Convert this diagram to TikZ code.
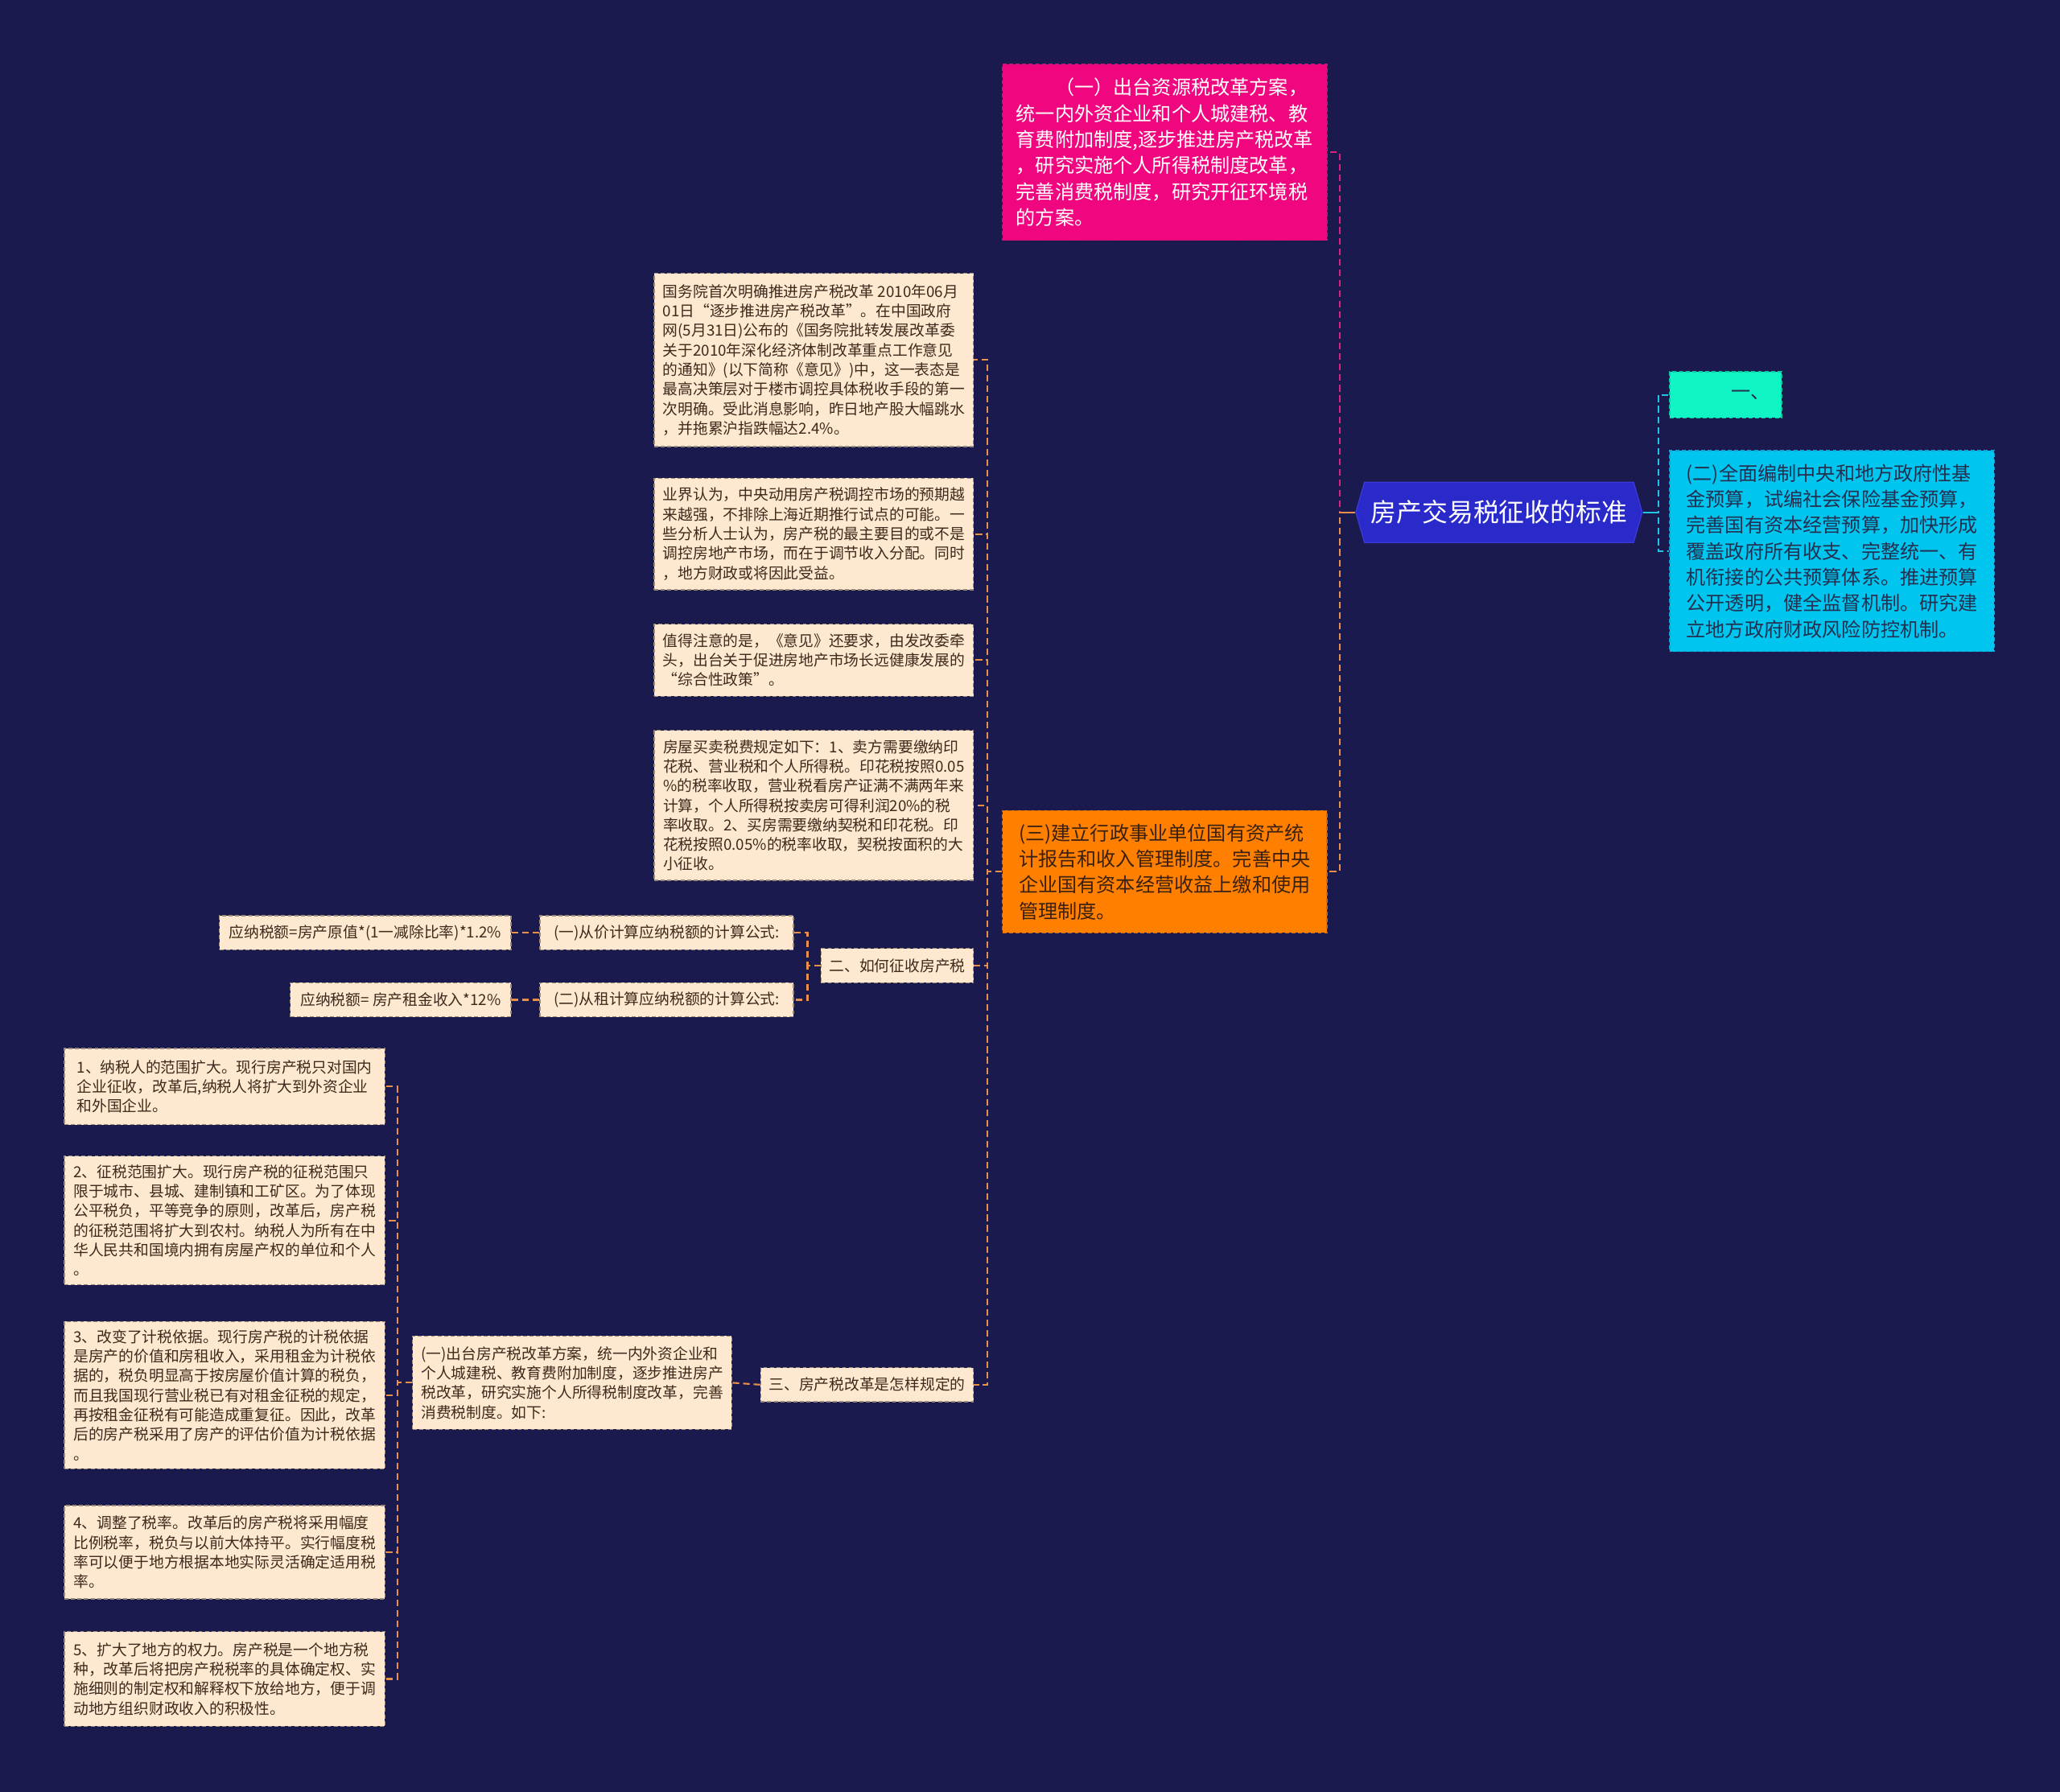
\documentclass[tikz,border=0pt]{standalone}
\usepackage{fontspec}
\setmainfont{Noto Sans CJK SC}
\usetikzlibrary{shapes.symbols}
\definecolor{bgc}{HTML}{1B1A4E}
\definecolor{pinkf}{HTML}{F0077F}
\definecolor{pinkd}{HTML}{C8157A}
\definecolor{aquaf}{HTML}{10F5C3}
\definecolor{aquad}{HTML}{10C8A0}
\definecolor{cyanf}{HTML}{00C6EF}
\definecolor{cyand}{HTML}{1AA0D0}
\definecolor{cyant}{HTML}{243050}
\definecolor{orangef}{HTML}{FF8000}
\definecolor{oranged}{HTML}{C86A10}
\definecolor{oranget}{HTML}{3A2010}
\definecolor{beigef}{HTML}{FFE8D0}
\definecolor{beiged}{HTML}{9A8A78}
\definecolor{beiget}{HTML}{3C2A1C}
\definecolor{rootf}{HTML}{2A2ACB}
\definecolor{rootd}{HTML}{3A3AD8}
\definecolor{connpink}{HTML}{E0207F}
\definecolor{connor}{HTML}{E8904A}
\definecolor{conncy}{HTML}{22C4E6}
\begin{document}
\begin{tikzpicture}[x=1pt,y=-1pt,
  box/.style={rectangle, draw, dash pattern=on 3pt off 2pt, line width=0.8pt, inner sep=0pt, align=left},
  beige/.style={box, fill=beigef, draw=beiged, text=beiget, font=\fontsize{11.5}{14.9}\selectfont},
  beigec/.style={beige, align=center},
  bigbox/.style={box, font=\fontsize{14.8}{19.8}\selectfont},
  conn/.style={line width=1.3pt, dash pattern=on 5pt off 3pt},
  connb/.style={conn, draw=connor},
  rootn/.style={shape=signal, signal to=west and east, signal pointer angle=148, fill=rootf, draw=rootd, line width=0.8pt, text=white, font=\fontsize{19.5}{22}\selectfont, inner sep=0pt}
]
\fill[bgc] (0,0) rectangle (1568,1364);
\useasboundingbox (0,0) rectangle (1568,1364);

% root
\node[rootn, minimum width=218pt, minimum height=46pt] (R) at (1141,390) {房产交易税征收的标准};

% right side
\node[box, fill=aquaf, draw=aquad, text=cyant, minimum width=85pt, minimum height=35pt, font=\fontsize{14.8}{19.8}\selectfont] (C1) at (1313.5,300.5) {\hspace*{38pt}一、};
\node[bigbox, fill=cyanf, draw=cyand, text=cyant, minimum width=247pt, minimum height=153pt] (C2) at (1394.5,419.5) {(二)全面编制中央和地方政府性基\\金预算，试编社会保险基金预算，\\完善国有资本经营预算，加快形成\\覆盖政府所有收支、完整统一、有\\机衔接的公共预算体系。推进预算\\公开透明，健全监督机制。研究建\\立地方政府财政风险防控机制。};

% left main
\node[bigbox, fill=pinkf, draw=pinkd, text=white, minimum width=247pt, minimum height=134pt] (P) at (886.5,116) {　　（一）出台资源税改革方案，\\统一内外资企业和个人城建税、教\\育费附加制度,逐步推进房产税改革\\，研究实施个人所得税制度改革，\\完善消费税制度，研究开征环境税\\的方案。};
\node[bigbox, fill=orangef, draw=oranged, text=oranget, minimum width=247pt, minimum height=93pt] (O) at (886.5,663.5) {(三)建立行政事业单位国有资产统\\计报告和收入管理制度。完善中央\\企业国有资本经营收益上缴和使用\\管理制度。};

% beige column
\node[beige, minimum width=243pt, minimum height=132pt] (A) at (619.5,274) {国务院首次明确推进房产税改革 2010年06月\\01日“逐步推进房产税改革”。在中国政府\\网(5月31日)公布的《国务院批转发展改革委\\关于2010年深化经济体制改革重点工作意见\\的通知》(以下简称《意见》)中，这一表态是\\最高决策层对于楼市调控具体税收手段的第一\\次明确。受此消息影响，昨日地产股大幅跳水\\，并拖累沪指跌幅达2.4\%。};
\node[beige, minimum width=243pt, minimum height=85pt] (B) at (619.5,406.5) {业界认为，中央动用房产税调控市场的预期越\\来越强，不排除上海近期推行试点的可能。一\\些分析人士认为，房产税的最主要目的或不是\\调控房地产市场，而在于调节收入分配。同时\\，地方财政或将因此受益。};
\node[beige, minimum width=243pt, minimum height=55pt] (C) at (619.5,502.5) {值得注意的是，《意见》还要求，由发改委牵\\头，出台关于促进房地产市场长远健康发展的\\“综合性政策”。};
\node[beige, minimum width=243pt, minimum height=114pt] (D) at (619.5,613) {房屋买卖税费规定如下：1、卖方需要缴纳印\\花税、营业税和个人所得税。印花税按照0.05\\\%的税率收取，营业税看房产证满不满两年来\\计算，个人所得税按卖房可得利润20\%的税\\率收取。2、买房需要缴纳契税和印花税。印\\花税按照0.05\%的税率收取，契税按面积的大\\小征收。};
\node[beigec, minimum width=116pt, minimum height=26pt] (E) at (683,735) {二、如何征收房产税};
\node[beigec, minimum width=193pt, minimum height=26pt] (F) at (507.5,710) {(一)从价计算应纳税额的计算公式:};
\node[beigec, minimum width=193pt, minimum height=26pt] (G) at (507.5,761) {(二)从租计算应纳税额的计算公式:};
\node[beigec, minimum width=222pt, minimum height=26pt] (H) at (278,710) {应纳税额=房产原值*(1一减除比率)*1.2\%};
\node[beigec, minimum width=168pt, minimum height=26pt] (I) at (305,761) {应纳税额= 房产租金收入*12\%};
\node[beigec, minimum width=162pt, minimum height=26pt] (J) at (660,1054) {三、房产税改革是怎样规定的};
\node[beige, minimum width=243pt, minimum height=71pt] (K) at (435.5,1052.5) {(一)出台房产税改革方案，统一内外资企业和\\个人城建税、教育费附加制度，逐步推进房产\\税改革，研究实施个人所得税制度改革，完善\\消费税制度。如下:};

\node[beige, minimum width=244pt, minimum height=58pt] (L1) at (171,827) {1、纳税人的范围扩大。现行房产税只对国内\\企业征收，改革后,纳税人将扩大到外资企业\\和外国企业。};
\node[beige, minimum width=244pt, minimum height=98pt] (L2) at (171,929) {2、征税范围扩大。现行房产税的征税范围只\\限于城市、县城、建制镇和工矿区。为了体现\\公平税负，平等竞争的原则，改革后，房产税\\的征税范围将扩大到农村。纳税人为所有在中\\华人民共和国境内拥有房屋产权的单位和个人\\。};
\node[beige, minimum width=244pt, minimum height=112pt] (L3) at (171,1062) {3、改变了计税依据。现行房产税的计税依据\\是房产的价值和房租收入，采用租金为计税依\\据的，税负明显高于按房屋价值计算的税负，\\而且我国现行营业税已有对租金征税的规定，\\再按租金征税有可能造成重复征。因此，改革\\后的房产税采用了房产的评估价值为计税依据\\。};
\node[beige, minimum width=244pt, minimum height=71pt] (L4) at (171,1181.5) {4、调整了税率。改革后的房产税将采用幅度\\比例税率，税负与以前大体持平。实行幅度税\\率可以便于地方根据本地实际灵活确定适用税\\率。};
\node[beige, minimum width=244pt, minimum height=72pt] (L5) at (171,1278) {5、扩大了地方的权力。房产税是一个地方税\\种，改革后将把房产税税率的具体确定权、实\\施细则的制定权和解释权下放给地方，便于调\\动地方组织财政收入的积极性。};

% connectors
\draw[conn, draw=connpink] (R.west) -- ++(-12,0) |- (P.east);
\draw[conn, draw=connor] (R.west) -- ++(-12,0) |- (O.east);
\draw[line width=1.3pt, draw=connor] (R.west) -- ++(-12,0);
\draw[conn, draw=conncy] (R.east) -- ++(12,0) |- (C1.west);
\draw[conn, draw=conncy] (R.east) -- ++(12,0) |- (C2.west);
\draw[line width=1.3pt, draw=conncy] (R.east) -- ++(12,0);

\foreach \t in {A,B,C,D,E,J}
  \draw[connb] (O.west) -- ++(-11,0) |- (\t.east);
\foreach \t in {F,G}
  \draw[connb] (E.west) -- ++(-10,0) |- (\t.east);
\draw[connb] (F.west) -- (H.east);
\draw[connb] (G.west) -- (I.east);
\draw[connb] (J.west) -- (K.east);
\foreach \t in {L1,L2,L3,L4,L5}
  \draw[connb] (K.west) -- ++(-11,0) |- (\t.east);
\end{tikzpicture}
\end{document}
